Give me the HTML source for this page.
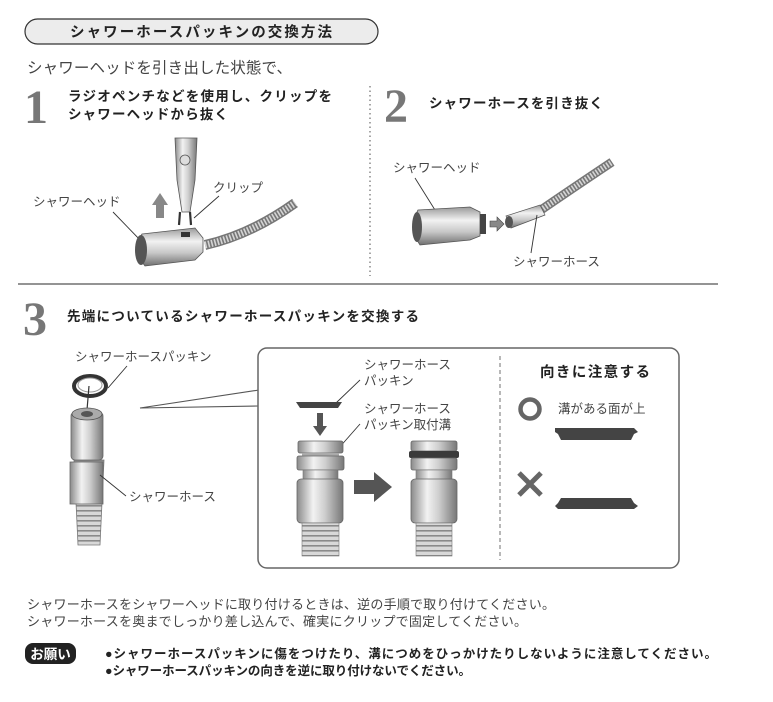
<!DOCTYPE html>
<html><head><meta charset="utf-8"><style>
html,body{margin:0;padding:0;background:#fff;}
svg{display:block;}
text{font-family:"Liberation Sans","Noto Sans CJK JP",sans-serif;}
.b{font-weight:bold;fill:#222;}
.l{fill:#444;font-size:12.5px;}
.num{font-family:"Liberation Serif","Noto Serif CJK SC",serif;font-weight:bold;fill:#777;font-size:48px;}
</style></head><body>
<svg width="773" height="702" viewBox="0 0 773 702" xmlns="http://www.w3.org/2000/svg">
<defs>
<linearGradient id="mh" x1="0" y1="0" x2="1" y2="0">
<stop offset="0" stop-color="#8a8a8a"/><stop offset="0.35" stop-color="#f2f2f2"/><stop offset="0.6" stop-color="#cfcfcf"/><stop offset="1" stop-color="#777"/></linearGradient>
<linearGradient id="mv" x1="0" y1="0" x2="0" y2="1">
<stop offset="0" stop-color="#999"/><stop offset="0.35" stop-color="#f2f2f2"/><stop offset="0.65" stop-color="#c8c8c8"/><stop offset="1" stop-color="#6f6f6f"/></linearGradient>
<pattern id="hose" width="4" height="4" patternUnits="userSpaceOnUse"><rect width="4" height="4" fill="#cfcfcf"/><rect width="4" height="1.5" fill="#888"/></pattern>
<pattern id="hosev" width="6" height="5" patternUnits="userSpaceOnUse"><rect width="6" height="5" fill="#d8d8d8"/><rect width="6" height="1.6" fill="#8a8a8a"/></pattern>
</defs>

<!-- title -->
<rect x="25" y="19" width="353" height="25" rx="12.5" fill="#ececec" stroke="#333" stroke-width="1.2"/>
<text x="201" y="37" text-anchor="middle" class="b" font-size="14.5" textLength="262">シャワーホースパッキンの交換方法</text>
<text x="27" y="73" fill="#444" font-size="15.5" textLength="265">シャワーヘッドを引き出した状態で、</text>

<!-- step 1 -->
<text x="24" y="123" class="num">1</text>
<text x="68" y="101" class="b" font-size="13.5" textLength="264">ラジオペンチなどを使用し、クリップを</text>
<text x="68" y="119" class="b" font-size="13.5" textLength="160">シャワーヘッドから抜く</text>
<line x1="370" y1="86" x2="370" y2="276" stroke="#777" stroke-width="1.3" stroke-dasharray="1.5 3"/>

<!-- pliers -->
<path d="M175 138 L197 138 L195 180 L190 212 L182 212 L177 180 Z" fill="url(#mh)" stroke="#555" stroke-width="0.8"/>
<circle cx="185" cy="160" r="5" fill="#ddd" stroke="#555" stroke-width="0.8"/>
<path d="M180 212 L179 225 M190 212 L191 225" stroke="#333" stroke-width="2.2"/>
<!-- up arrow -->
<path d="M156 218 L156 205 L152 205 L160 193 L168 205 L164 205 L164 218 Z" fill="#888"/>
<text x="213" y="192" class="l">クリップ</text>
<line x1="219" y1="196" x2="194" y2="218" stroke="#333" stroke-width="0.9"/>
<text x="33" y="206" class="l">シャワーヘッド</text>
<line x1="113" y1="212" x2="143" y2="243" stroke="#333" stroke-width="0.9"/>
<!-- hose 1 -->
<path d="M205 245 Q250 235 295 203" stroke="#777" stroke-width="10" fill="none"/>
<path d="M205 245 Q250 235 295 203" stroke="#d5d5d5" stroke-width="7" fill="none" stroke-dasharray="1.6 1.6"/>
<!-- head 1 -->
<path d="M142 234 L195 228 L203 238 L203 252 L195 260 L145 266 Q132 250 142 234 Z" fill="url(#mv)" stroke="#555" stroke-width="0.8"/>
<ellipse cx="141" cy="250" rx="6" ry="15" fill="#555"/>
<rect x="181" y="232" width="9" height="5" fill="#333"/>

<!-- step 2 -->
<text x="384" y="122" class="num">2</text>
<text x="429" y="108" class="b" font-size="13.5" textLength="174">シャワーホースを引き抜く</text>
<text x="393" y="172" class="l">シャワーヘッド</text>
<line x1="415" y1="178" x2="440" y2="218" stroke="#333" stroke-width="0.9"/>
<path d="M418 210 L470 207 L480 212 L480 236 L470 240 L420 245 Q408 228 418 210 Z" fill="url(#mv)" stroke="#555" stroke-width="0.8"/>
<ellipse cx="417" cy="227" rx="5" ry="15" fill="#555"/>
<rect x="480" y="214" width="6" height="20" fill="#444"/>
<path d="M490 221 L497 221 L497 217 L504 224 L497 231 L497 227 L490 227 Z" fill="#888" stroke="#444" stroke-width="0.6"/>
<path d="M538 212 Q570 190 612 162" stroke="#777" stroke-width="9" fill="none"/>
<path d="M538 212 Q570 190 612 162" stroke="#d5d5d5" stroke-width="6" fill="none" stroke-dasharray="1.6 1.6"/>
<path d="M506 216 L540 205 L545 215 L511 228 Z" fill="url(#mv)" stroke="#555" stroke-width="0.7"/>
<ellipse cx="509" cy="222" rx="4" ry="6" fill="#555"/>
<text x="513" y="266" class="l">シャワーホース</text>
<line x1="531" y1="253" x2="537" y2="215" stroke="#333" stroke-width="0.9"/>

<line x1="18" y1="284" x2="718" y2="284" stroke="#555" stroke-width="1.3"/>

<!-- step 3 -->
<text x="23" y="335" class="num">3</text>
<text x="67" y="321" class="b" font-size="13.5" textLength="352">先端についているシャワーホースパッキンを交換する</text>
<text x="75" y="361" class="l">シャワーホースパッキン</text>
<line x1="127" y1="366" x2="108" y2="388" stroke="#333" stroke-width="0.9"/>
<ellipse cx="90" cy="386" rx="16" ry="10" fill="none" stroke="#333" stroke-width="4"/>
<ellipse cx="90" cy="385" rx="12" ry="7" fill="#fff" stroke="#999" stroke-width="1"/>
<line x1="89" y1="386" x2="87" y2="410" stroke="#333" stroke-width="1.2"/>
<!-- hose vertical -->
<path d="M74 460 L104 460 L100 545 L78 545 Z" fill="url(#hosev)" stroke="#777" stroke-width="0.8"/>
<rect x="71" y="412" width="32" height="48" rx="4" fill="url(#mh)" stroke="#666" stroke-width="0.8"/>
<ellipse cx="87" cy="414" rx="15" ry="6" fill="#aaa" stroke="#555" stroke-width="0.8"/>
<ellipse cx="87" cy="414" rx="6" ry="3" fill="#555"/>
<rect x="70" y="462" width="33" height="42" fill="url(#mh)" stroke="#666" stroke-width="0.8"/>
<text x="129" y="501" class="l">シャワーホース</text>
<line x1="126" y1="496" x2="100" y2="475" stroke="#333" stroke-width="0.9"/>
<!-- callout -->
<path d="M140 408 L259 390 M140 408 L259 406" stroke="#555" stroke-width="1.1" fill="none"/>
<rect x="258" y="348" width="421" height="220" rx="9" fill="#fff" stroke="#666" stroke-width="1.5"/>
<line x1="500" y1="356" x2="500" y2="560" stroke="#888" stroke-width="1.2" stroke-dasharray="4 3"/>

<text x="364" y="369" class="l">シャワーホース</text>
<text x="364" y="385" class="l">パッキン</text>
<line x1="360" y1="380" x2="336" y2="403" stroke="#333" stroke-width="0.9"/>
<path d="M296 402 L342 402 L338 408 L300 408 Z" fill="#444"/>
<text x="364" y="413" class="l">シャワーホース</text>
<text x="364" y="429" class="l">パッキン取付溝</text>
<line x1="360" y1="424" x2="338" y2="449" stroke="#333" stroke-width="0.9"/>
<path d="M317 413 L323 413 L323 426 L327 426 L320 436 L313 426 L317 426 Z" fill="#555"/>
<!-- fitting left -->
<rect x="298" y="441" width="45" height="12" rx="2" fill="url(#mh)" stroke="#666" stroke-width="0.8"/>
<rect x="302" y="453" width="37" height="3" fill="#aaa"/>
<rect x="297" y="456" width="47" height="14" rx="2" fill="url(#mh)" stroke="#666" stroke-width="0.8"/>
<rect x="303" y="470" width="35" height="10" fill="url(#mh)" stroke="#777" stroke-width="0.6"/>
<rect x="297" y="479" width="46" height="44" rx="4" fill="url(#mh)" stroke="#666" stroke-width="0.8"/>
<rect x="302" y="523" width="37" height="33" fill="url(#hosev)" stroke="#777" stroke-width="0.6"/>
<!-- right arrow -->
<path d="M354 480 L374 480 L374 472 L392 487 L374 502 L374 494 L354 494 Z" fill="#555"/>
<!-- fitting right -->
<rect x="411" y="441" width="46" height="10" rx="2" fill="url(#mh)" stroke="#666" stroke-width="0.8"/>
<rect x="409" y="451" width="50" height="7" rx="2" fill="#3a3a3a"/>
<rect x="411" y="458" width="46" height="12" rx="2" fill="url(#mh)" stroke="#666" stroke-width="0.8"/>
<rect x="416" y="470" width="36" height="10" fill="url(#mh)" stroke="#777" stroke-width="0.6"/>
<rect x="411" y="479" width="46" height="44" rx="4" fill="url(#mh)" stroke="#666" stroke-width="0.8"/>
<rect x="416" y="523" width="36" height="33" fill="url(#hosev)" stroke="#777" stroke-width="0.6"/>

<text x="540" y="377" class="b" font-size="14.5" textLength="110">向きに注意する</text>
<circle cx="530" cy="409" r="9.5" fill="none" stroke="#666" stroke-width="4.5"/>
<text x="558" y="413" class="l">溝がある面が上</text>
<path d="M555 428 L634 428 L638 432 L634 434 L631 440 L561 440 L558 434 L555 432 Z" fill="#444"/>
<path d="M519 473 L541 495 M541 473 L519 495" stroke="#666" stroke-width="5"/>
<path d="M561 498 L631 498 L634 503 L638 506 L634 509 L558 509 L555 506 L558 503 Z" fill="#444"/>

<!-- bottom text -->
<text x="27" y="609" fill="#444" font-size="13" textLength="528">シャワーホースをシャワーヘッドに取り付けるときは、逆の手順で取り付けてください。</text>
<text x="27" y="626" fill="#444" font-size="13" textLength="500">シャワーホースを奥までしっかり差し込んで、確実にクリップで固定してください。</text>
<rect x="25" y="643" width="51" height="21" rx="8" fill="#222"/>
<text x="50.5" y="659" text-anchor="middle" fill="#fff" font-weight="bold" font-size="13.5">お願い</text>
<text x="105" y="658" class="b" font-size="12.5" textLength="612">●シャワーホースパッキンに傷をつけたり、溝につめをひっかけたりしないように注意してください。</text>
<text x="105" y="675" class="b" font-size="12.5" textLength="366">●シャワーホースパッキンの向きを逆に取り付けないでください。</text>
</svg>
</body></html>
